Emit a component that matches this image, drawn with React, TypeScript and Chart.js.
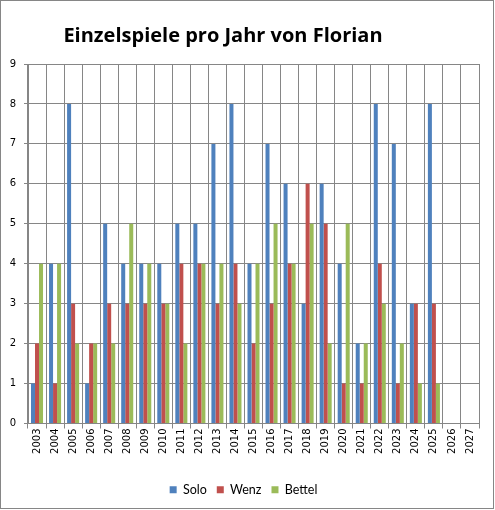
import { useEffect, useRef } from "react";
import { Chart, registerables } from "chart.js";
Chart.register(...registerables);

const chartTitle = "Einzelspiele pro Jahr von Florian";
const years = [
  "2003", "2004", "2005", "2006", "2007", "2008", "2009", "2010", "2011",
  "2012", "2013", "2014", "2015", "2016", "2017", "2018", "2019", "2020",
  "2021", "2022", "2023", "2024", "2025", "2026", "2027",
];
const solo = [1, 4, 8, 1, 5, 4, 4, 4, 5, 5, 7, 8, 4, 7, 6, 3, 6, 4, 2, 8, 7, 3, 8, null, null];
const wenz = [2, 1, 3, 2, 3, 3, 3, 3, 4, 4, 3, 4, 2, 3, 4, 6, 5, 1, 1, 4, 1, 3, 3, null, null];
const bettel = [4, 4, 2, 2, 2, 5, 4, 3, 2, 4, 4, 3, 4, 5, 4, 5, 2, 5, 2, 3, 2, 1, 1, null, null];

const GRID = "#868686";

// white background, outer border and the title, drawn like the Excel frame
const framePlugin = {
  id: "frame",
  beforeDraw: (chart: Chart) => {
    const ctx = chart.ctx;
    ctx.save();
    ctx.fillStyle = "#ffffff";
    ctx.fillRect(0, 0, chart.width, chart.height);
    ctx.strokeStyle = GRID;
    ctx.lineWidth = 1;
    ctx.strokeRect(0.5, 0.5, chart.width - 2, chart.height - 2);
    ctx.restore();
  },
  afterDraw: (chart: Chart) => {
    const ctx = chart.ctx;
    ctx.save();
    ctx.fillStyle = "#000000";
    ctx.font = "bold 20px 'Open Sans'";
    ctx.textAlign = "center";
    ctx.textBaseline = "middle";
    ctx.fillText(chartTitle, 223, 36);
    ctx.restore();
  },
};

const GamesChart = () => {
  const canvasRef = useRef<HTMLCanvasElement | null>(null);
  const chartInstance = useRef<Chart | null>(null);

  useEffect(() => {
    if (!canvasRef.current) return;
    const ctx = canvasRef.current.getContext("2d");
    if (!ctx) return;

    if (chartInstance.current) chartInstance.current.destroy();

    const barOpts = { barPercentage: 1, categoryPercentage: 0.667, borderWidth: 0 };

    chartInstance.current = new Chart(ctx, {
      type: "bar",
      data: {
        labels: years,
        datasets: [
          { label: "Solo", data: solo, backgroundColor: "#4F81BD", ...barOpts },
          { label: "Wenz", data: wenz, backgroundColor: "#C0504D", ...barOpts },
          { label: "Bettel", data: bettel, backgroundColor: "#9BBB59", ...barOpts },
        ],
      },
      options: {
        responsive: false,
        animation: false,
        layout: { padding: { left: 8, right: 16, top: 64, bottom: 4 } },
        plugins: {
          title: { display: false },
          tooltip: { enabled: false },
          legend: {
            position: "bottom",
            labels: {
              boxWidth: 7,
              boxHeight: 7,
              padding: 10,
              color: "#000000",
              font: { family: "Lato", size: 12.5 },
            },
          },
        },
        scales: {
          x: {
            grid: { color: GRID, offset: true, tickLength: 5 },
            border: { color: GRID },
            ticks: {
              color: "#000000",
              font: { family: "DejaVu Sans", size: 10 },
              minRotation: 90,
              maxRotation: 90,
              padding: 0,
              autoSkip: false,
            },
            afterFit: (scale: any) => {
              scale.height = 50;
            },
          },
          y: {
            min: 0,
            max: 9,
            grid: { color: GRID, tickLength: 4 },
            border: { color: GRID },
            ticks: {
              stepSize: 1,
              color: "#000000",
              font: { family: "DejaVu Sans", size: 10 },
              padding: 8,
            },
            afterFit: (scale: any) => {
              scale.width = 20;
            },
          },
        },
      },
      plugins: [framePlugin],
    });

    return () => {
      if (chartInstance.current) {
        chartInstance.current.destroy();
        chartInstance.current = null;
      }
    };
  }, []);

  return <canvas ref={canvasRef} width={495} height={510}></canvas>;
};

export default function App() {
  return (
    <div style={{ position: "absolute", left: 0, top: 0, width: 495, height: 510 }}>
      <GamesChart />
    </div>
  );
}
